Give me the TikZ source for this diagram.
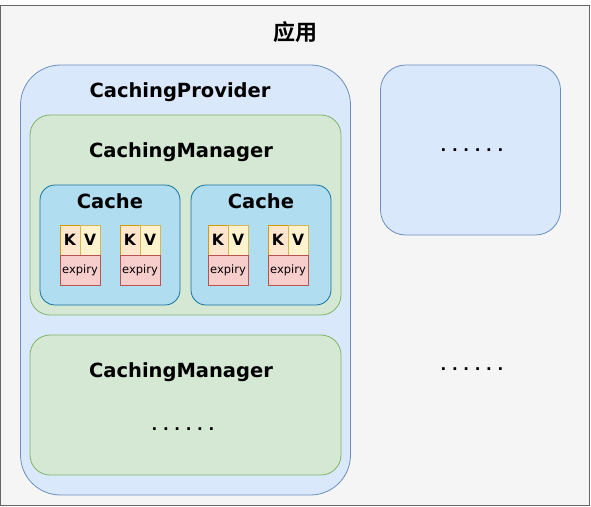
\documentclass[tikz,border=0pt]{standalone}
\usepackage{fontspec}
\setmainfont{DejaVu Sans}
\newfontfamily\cjk{Noto Sans CJK SC Bold}
\definecolor{grayfill}{HTML}{F5F5F5}
\definecolor{graydraw}{HTML}{666666}
\definecolor{bluefill}{HTML}{DAE8FC}
\definecolor{bluedraw}{HTML}{6C8EBF}
\definecolor{greenfill}{HTML}{D5E8D4}
\definecolor{greendraw}{HTML}{82B366}
\definecolor{cachefill}{HTML}{B1DDF0}
\definecolor{cachedraw}{HTML}{10739E}
\definecolor{kfill}{HTML}{FFE6CC}
\definecolor{kdraw}{HTML}{D79B00}
\definecolor{vfill}{HTML}{FFF2CC}
\definecolor{vdraw}{HTML}{D6B656}
\definecolor{efill}{HTML}{F8CECC}
\definecolor{edraw}{HTML}{B85450}
\tikzset{
  box/.style={draw, inner sep=0pt, line width=0.8pt},
  outerbox/.style={box, fill=grayfill, draw=graydraw},
  provbox/.style={box, fill=bluefill, draw=bluedraw},
  mgrbox/.style={box, fill=greenfill, draw=greendraw, rounded corners=20pt},
  cachebox/.style={box, fill=cachefill, draw=cachedraw, rounded corners=15pt},
  kcell/.style={box, fill=kfill, draw=kdraw, minimum width=20pt, minimum height=30pt, font=\bfseries\fontsize{15.5}{15.5}\selectfont},
  vcell/.style={box, fill=vfill, draw=vdraw, minimum width=20pt, minimum height=30pt, font=\bfseries\fontsize{15.5}{15.5}\selectfont},
  ecell/.style={box, fill=efill, draw=edraw, minimum width=40pt, minimum height=30pt, font=\fontsize{11.5}{11.5}\selectfont},
  bigtxt/.style={inner sep=0pt, font=\bfseries\fontsize{19.5}{19.5}\selectfont},
  dots/.style={inner sep=0pt, font=\bfseries\fontsize{15}{15}\selectfont\addfontfeature{LetterSpace=38}},
}
\newcommand{\kvpair}[2]{%
  \node[kcell] (k#1) at (#2+10,240) {K};
  \node[vcell] (v#1) at (#2+30,240) {V};
  \node[ecell] (e#1) at (#2+20,270) {expiry};
}
\begin{document}
\begin{tikzpicture}[x=1pt,y=-1pt]
\useasboundingbox (0,0) rectangle (591,506);
\node[outerbox, minimum width=589pt, minimum height=500pt] (app) at (294.5,255) {};
\node[inner sep=0pt, font=\cjk\fontsize{22}{22}\selectfont] (apptxt) at (295,32) {应用};
\node[provbox, rounded corners=40pt, minimum width=330pt, minimum height=430pt] (prov) at (185.5,280) {};
\node[provbox, rounded corners=25pt, minimum width=180pt, minimum height=170pt] (other) at (470.5,150) {};
\node[bigtxt] (provtxt) at (180,92) {CachingProvider};
\node[mgrbox, minimum width=311pt, minimum height=200pt] (mgr1) at (185.5,215) {};
\node[bigtxt] (mgr1txt) at (181,152) {CachingManager};
\node[cachebox, minimum width=140pt, minimum height=120pt] (cache1) at (110,245) {};
\node[cachebox, minimum width=140pt, minimum height=120pt] (cache2) at (261,245) {};
\node[bigtxt] (c1txt) at (110,201) {Cache};
\node[bigtxt] (c2txt) at (261,201) {Cache};
\kvpair{1}{60}
\kvpair{2}{120}
\kvpair{3}{208}
\kvpair{4}{268}
\node[mgrbox, minimum width=311pt, minimum height=140pt] (mgr2) at (185.5,405) {};
\node[bigtxt] (mgr2txt) at (181,372) {CachingManager};
\node[dots] (d1) at (183,429) {......};
\node[dots] (d2) at (472,150) {......};
\node[dots] (d3) at (472,369) {......};
\end{tikzpicture}
\end{document}
